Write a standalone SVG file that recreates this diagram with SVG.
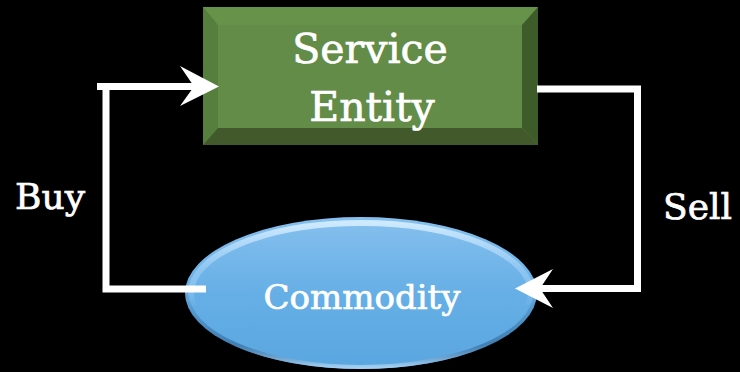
<svg xmlns="http://www.w3.org/2000/svg" width="740" height="372" viewBox="0 0 740 372">
  <style>
    .label { font-family: "DejaVu Serif", "Liberation Serif", serif; fill: #ffffff; stroke: #ffffff; stroke-width: 0.7; }
    .wire { fill: none; stroke: #ffffff; stroke-width: 7; stroke-linejoin: miter; }
    .head { fill: #ffffff; }
  </style>
  <defs>
    <linearGradient id="orbFill" x1="0" y1="0" x2="0" y2="1">
      <stop offset="0" stop-color="#86c0ee"/>
      <stop offset="0.5" stop-color="#66afe6"/>
      <stop offset="1" stop-color="#5aa6e0"/>
    </linearGradient>
    <linearGradient id="rimLight" x1="0" y1="0" x2="0" y2="1">
      <stop offset="0" stop-color="#d2ecff" stop-opacity="0.95"/>
      <stop offset="0.35" stop-color="#b0d8fa" stop-opacity="0.45"/>
      <stop offset="0.6" stop-color="#ffffff" stop-opacity="0"/>
    </linearGradient>
    <linearGradient id="rimDark" x1="0" y1="0" x2="0" y2="1">
      <stop offset="0.45" stop-color="#1e4e7a" stop-opacity="0"/>
      <stop offset="0.85" stop-color="#2a5f8e" stop-opacity="0.55"/>
      <stop offset="1" stop-color="#a8d4f5" stop-opacity="0.9"/>
    </linearGradient>
  </defs>

  <rect width="740" height="372" fill="#000000"/>

  <!-- beveled rectangle -->
  <g id="service-entity">
    <rect x="203" y="7" width="335" height="138" fill="#5f8a45"/>
    <polygon points="203,7 538,7 522,25 218,25" fill="#66924a"/>
    <polygon points="203,7 218,25 218,128 203,145" fill="#567f3e"/>
    <polygon points="538,7 538,145 522,128 522,25" fill="#3e5c2a"/>
    <polygon points="203,145 538,145 522,128 218,128" fill="#42592c"/>
    <rect x="218" y="25" width="304" height="103" fill="#628c47"/>
    <text class="label" x="370" y="63" font-size="41" text-anchor="middle">Service</text>
    <text class="label" x="372" y="121" font-size="41" text-anchor="middle">Entity</text>
  </g>

  <!-- shaded ellipse -->
  <g id="commodity">
    <ellipse cx="361" cy="293" rx="176" ry="76" fill="url(#orbFill)"/>
    <ellipse cx="361" cy="293" rx="170" ry="70" fill="none" stroke="url(#rimLight)" stroke-width="6"/>
    <ellipse cx="361" cy="293" rx="174" ry="74" fill="none" stroke="url(#rimDark)" stroke-width="4"/>
    <text class="label" x="362" y="309" font-size="34" text-anchor="middle">Commodity</text>
  </g>

  <!-- buy / sell loop -->
  <g id="connectors">
    <path class="wire" d="M206,289 H106 V86.5" stroke-width="6.5"/>
    <path class="wire" d="M97,86.5 H200"/>
    <polygon class="head" points="219,86.5 180,66 194,86.5 180,106"/>
    <path class="wire" d="M537,89 H637.5 V288.5 H535"/>
    <polygon class="head" points="515,288.5 553,269 540,288.5 553,308"/>
  </g>

  <g id="labels">
    <text class="label" x="15" y="209" font-size="36">Buy</text>
    <text class="label" x="663" y="219" font-size="36">Sell</text>
  </g>
</svg>
